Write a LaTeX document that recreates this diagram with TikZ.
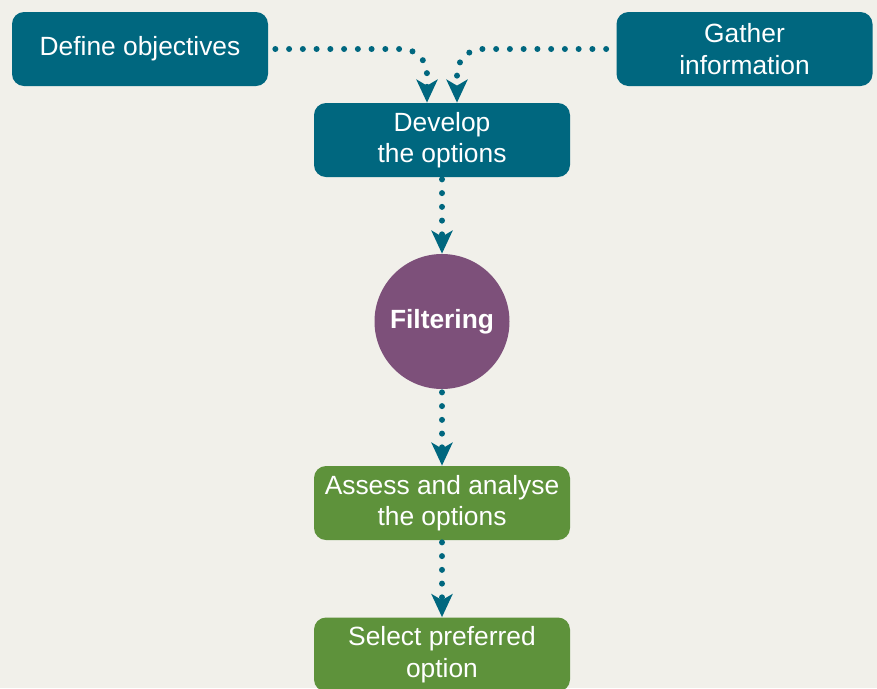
\documentclass[tikz,border=0pt]{standalone}
\usepackage{fontspec}
\setmainfont{Liberation Sans}
\usetikzlibrary{shapes.geometric, arrows.meta, positioning}
\definecolor{bgcol}{RGB}{241,240,234}
\definecolor{tealbox}{RGB}{0,103,127}
\definecolor{plumbox}{RGB}{125,80,122}
\definecolor{greenbox}{RGB}{94,146,59}
\tikzstyle{stage} = [rectangle, rounded corners=0.24cm, minimum width=5.12cm, minimum height=1.48cm, text centered, align=center, text=white, font=\fontsize{15}{18}\selectfont, fill=tealbox]
\tikzstyle{result} = [stage, fill=greenbox]
\tikzstyle{filter} = [circle, minimum size=2.7cm, text=white, font=\bfseries\fontsize{15}{18}\selectfont, fill=plumbox]
\tikzstyle{arrow} = [draw=tealbox, line width=0.12cm, line cap=round, dash pattern=on 0pt off 0.275cm, -{Stealth[length=0.46cm, width=0.42cm, inset=0.12cm]}]

\begin{document}
\begin{tikzpicture}[node distance = 3.63cm]
  \fill[bgcol] (0,0) rectangle (17.54,-13.76);
  \useasboundingbox (0,0) rectangle (17.54,-13.76);

  \node (objectives) [stage] at (2.8,-0.98) {Define objectives};
  \node (gather) [stage] at (14.89,-0.98) {Gather\\information};
  \node (develop) [stage] at (8.84,-2.80) {Develop\\the options};
  \node (filtering) [filter, below of = develop] {Filtering};
  \node (assess) [result, below of = filtering] {Assess and analyse\\the options};
  \node (select) [result, below of = assess, yshift=0.6cm] {Select preferred\\option};

  \draw[arrow, rounded corners=0.5cm, shorten <=0.14cm] (objectives.east) -| ([xshift=-0.3cm]develop.north);
  \draw[arrow, rounded corners=0.5cm, shorten <=0.2cm] (gather.west) -| ([xshift=0.3cm]develop.north);
  \draw[arrow, shorten <=0.04cm] (develop) -- (filtering);
  \draw[arrow, shorten <=0.06cm] (filtering) -- (assess);
  \draw[arrow, shorten <=0.04cm] (assess) -- (select);
\end{tikzpicture}
\end{document}
